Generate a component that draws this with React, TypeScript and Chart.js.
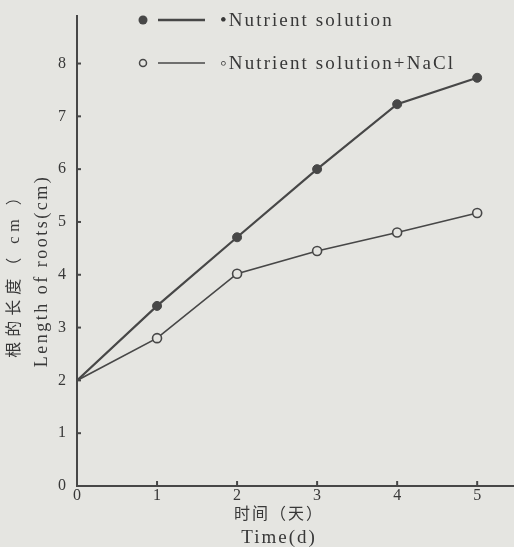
import { useEffect, useRef } from "react";
import { Chart, registerables } from "chart.js";

Chart.register(...registerables);

// ---- data ----
const DAYS = [0, 1, 2, 3, 4, 5];
const NUTRIENT = [2.0, 3.41, 4.71, 6.0, 7.23, 7.73];
const NUTRIENT_NACL = [2.0, 2.8, 4.02, 4.45, 4.8, 5.17];
const SERIES_LABELS = ["•Nutrient solution", "◦Nutrient solution+NaCl"];
const X_TICKS = [0, 1, 2, 3, 4, 5];
const Y_TICKS = [0, 1, 2, 3, 4, 5, 6, 7, 8];
const X_TITLE = ["时间（天）", "Time(d)"];
const Y_TITLE = ["根的长度（ cm ）", "Length of roots(cm)"];

const INK = "#383838";
const LINE = "#474747";
const PAPER = "#e5e5e1";
const FONT = "'Liberation Serif', 'Noto Sans CJK SC', serif";

const decorPlugin = {
  id: "decor",
  afterDraw(chart: any) {
    const ctx = chart.ctx as CanvasRenderingContext2D;
    const xs = chart.scales.x;
    const ys = chart.scales.y;
    const area = chart.chartArea;
    ctx.save();
    // inward tick marks
    ctx.strokeStyle = LINE;
    ctx.lineWidth = 2;
    Y_TICKS.forEach((v) => {
      if (v === 0) return;
      const py = ys.getPixelForValue(v);
      ctx.beginPath();
      ctx.moveTo(area.left, py);
      ctx.lineTo(area.left + 4, py);
      ctx.stroke();
    });
    X_TICKS.forEach((v) => {
      if (v === 0) return;
      const px = xs.getPixelForValue(v);
      ctx.beginPath();
      ctx.moveTo(px, area.bottom);
      ctx.lineTo(px, area.bottom - 5);
      ctx.stroke();
    });

    // legend
    chart.data.datasets.forEach((ds: any, i: number) => {
      const y = 20 + i * 43;
      ctx.strokeStyle = LINE;
      ctx.lineWidth = i === 0 ? 2.5 : 1.5;
      ctx.beginPath();
      ctx.moveTo(158, y);
      ctx.lineTo(205, y);
      ctx.stroke();
      ctx.beginPath();
      ctx.arc(143, y, i === 0 ? 4.5 : 3.5, 0, Math.PI * 2);
      if (i === 0) {
        ctx.fillStyle = LINE;
        ctx.fill();
      } else {
        ctx.fillStyle = PAPER;
        ctx.fill();
        ctx.lineWidth = 1.5;
        ctx.stroke();
      }
      ctx.fillStyle = INK;
      ctx.font = `19px ${FONT}`;
      (ctx as any).letterSpacing = "2.1px";
      ctx.textAlign = "left";
      ctx.textBaseline = "middle";
      ctx.fillText(ds.label, 220, y + 1);
    });

    // axis titles
    ctx.fillStyle = INK;
    ctx.textAlign = "center";
    ctx.textBaseline = "middle";
    const cy = 271;
    ctx.save();
    ctx.translate(15, cy);
    ctx.rotate(-Math.PI / 2);
    ctx.font = `16px ${FONT}`;
    (ctx as any).letterSpacing = "5px";
    ctx.fillText(Y_TITLE[0], 0, 0);
    ctx.restore();
    ctx.save();
    ctx.translate(42, cy);
    ctx.rotate(-Math.PI / 2);
    ctx.font = `18px ${FONT}`;
    (ctx as any).letterSpacing = "2.5px";
    ctx.fillText(Y_TITLE[1], 0, 0);
    ctx.restore();

    ctx.font = `16px ${FONT}`;
    (ctx as any).letterSpacing = "2px";
    ctx.fillText(X_TITLE[0], 279, 515);
    ctx.font = `19px ${FONT}`;
    (ctx as any).letterSpacing = "2px";
    ctx.fillText(X_TITLE[1], 279, 538);
    ctx.restore();
  },
};

export default function App() {
  const ref = useRef<HTMLCanvasElement | null>(null);
  useEffect(() => {
    if (!ref.current) return;
    const chart = new Chart(ref.current, {
      type: "line",
      data: {
        datasets: [
          {
            label: SERIES_LABELS[0],
            data: DAYS.map((d, i) => ({ x: d, y: NUTRIENT[i] })),
            borderColor: LINE,
            borderWidth: 2.2,
            pointRadius: (c: any) => (c.dataIndex === 0 ? 0 : 4.5),
            pointBackgroundColor: LINE,
            pointBorderColor: LINE,
            pointBorderWidth: 1,
            tension: 0,
          },
          {
            label: SERIES_LABELS[1],
            data: DAYS.map((d, i) => ({ x: d, y: NUTRIENT_NACL[i] })),
            borderColor: LINE,
            borderWidth: 1.7,
            pointRadius: (c: any) => (c.dataIndex === 0 ? 0 : 4.5),
            pointBackgroundColor: PAPER,
            pointBorderColor: LINE,
            pointBorderWidth: 1.6,
            tension: 0,
          },
        ],
      },
      options: {
        animation: false,
        responsive: false,
        devicePixelRatio: 1,
        layout: { autoPadding: false, padding: { top: 16, right: 0, left: 0, bottom: 0 } },
        plugins: {
          legend: { display: false },
          tooltip: { enabled: false },
        },
        scales: {
          x: {
            type: "linear",
            min: 0,
            max: 5.46,
            afterBuildTicks: (s: any) => {
              s.ticks = X_TICKS.map((v) => ({ value: v }));
            },
            afterFit: (s: any) => {
              s.height = 61;
              s.paddingLeft = 0;
              s.paddingRight = 0;
            },
            grid: { display: false, drawTicks: false },
            border: { display: true, color: LINE, width: 2 },
            ticks: {
              color: INK,
              font: { family: FONT, size: 16 },
              padding: 0,
              maxRotation: 0,
              autoSkip: false,
            },
          },
          y: {
            type: "linear",
            min: 0,
            max: 8.9,
            afterBuildTicks: (s: any) => {
              s.ticks = Y_TICKS.map((v) => ({ value: v }));
            },
            afterFit: (s: any) => {
              s.width = 77;
              s.paddingTop = 0;
              s.paddingBottom = 0;
            },
            grid: { display: false, drawTicks: false },
            border: { display: true, color: LINE, width: 2 },
            ticks: {
              color: INK,
              font: { family: FONT, size: 16 },
              padding: 11,
              autoSkip: false,
            },
          },
        },
      },
      plugins: [decorPlugin],
    } as any);
    return () => chart.destroy();
  }, []);

  return (
    <div
      style={{
        position: "fixed",
        left: 0,
        top: 0,
        width: 514,
        height: 547,
        background: PAPER,
        overflow: "hidden",
      }}
    >
      <canvas ref={ref} width={514} height={547} style={{ display: "block" }} />
    </div>
  );
}
